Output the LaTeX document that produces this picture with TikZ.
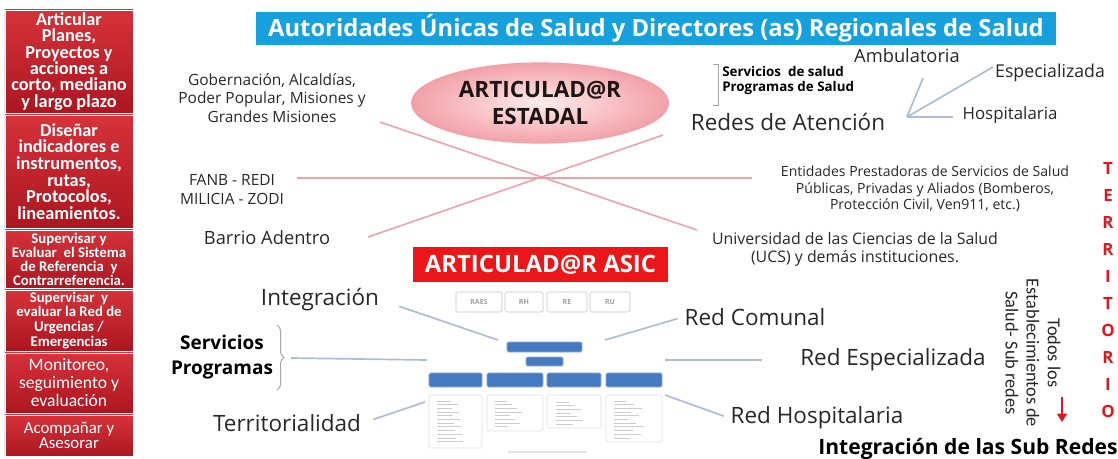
\documentclass[tikz,border=0pt]{standalone}
\usepackage{fontspec}
\setmainfont{Open Sans}
\newfontfamily\boxfont{Carlito}
\usepackage{tikz}
\usetikzlibrary{arrows.meta}
\usetikzlibrary{shapes.geometric}
\usetikzlibrary{decorations.pathreplacing}

\definecolor{sidetop}{RGB}{214,50,58}
\definecolor{sidebot}{RGB}{172,22,32}
\definecolor{titleblue}{RGB}{22,160,220}
\definecolor{asicred}{RGB}{236,22,24}
\definecolor{labelgray}{RGB}{40,40,40}
\definecolor{crosspink}{RGB}{240,160,168}
\definecolor{connblue}{RGB}{172,190,214}
\definecolor{barblue}{RGB}{70,122,192}
\definecolor{terrred}{RGB}{222,24,30}
\newcommand{\fsz}[2]{\fontsize{#1}{#2}\selectfont}

\begin{document}
\begin{tikzpicture}[x=0.025cm, y=-0.025cm,
    sidebox/.style={draw=white, line width=0.6pt, top color=sidetop, bottom color=sidebot,
        text=white, align=center, minimum width=3.2cm, inner sep=1pt},
    lbl/.style={text=labelgray, align=center, inner sep=1pt},
    crossline/.style={draw=crosspink, line width=1.1pt},
    conn/.style={draw=connblue, line width=1.2pt},
    minibox/.style={draw=gray!45, rounded corners=1pt, minimum height=0.5cm, inner sep=0pt,
        font=\bfseries\fsz{5}{6}, text=gray!75},
    bluebar/.style={fill=barblue, draw=barblue!60!white, rounded corners=1pt, inner sep=0pt},
    listbox/.style={draw=gray!25, rounded corners=1pt},
    terr/.style={text=terrred, font=\bfseries\fsz{12}{12}, inner sep=0pt}
]
        \clip (0,0) rectangle (1118,459);
        \fill[white] (0,0) rectangle (1118,459);

        % columna izquierda
        \node[sidebox, minimum height=2.575cm, font=\boxfont\bfseries\fsz{13}{11.6}] (planes) at (69,61.5) {Articular\\Planes,\\Proyectos y\\acciones a\\corto, mediano\\y largo plazo};
        \node[sidebox, minimum height=2.825cm, font=\boxfont\bfseries\fsz{13}{11.9}] (disenar) at (69,171.5) {Diseñar\\indicadores e\\instrumentos,\\rutas,\\Protocolos,\\lineamientos.};
        \node[sidebox, minimum height=1.45cm, font=\boxfont\bfseries\fsz{10.5}{10}] (refer) at (69,259) {Supervisar y\\Evaluar\ \ el Sistema\\de Referencia\ \ y\\Contrarreferencia.};
        \node[sidebox, minimum height=1.525cm, font=\boxfont\bfseries\fsz{10.5}{10.6}] (urgen) at (69,320.5) {Supervisar\ \ y\\evaluar la Red de\\Urgencias /\\Emergencias};
        \node[sidebox, minimum height=1.5cm, font=\boxfont\fsz{12.5}{12.8}] (monit) at (69,383) {Monitoreo,\\seguimiento y\\evaluación};
        \node[sidebox, minimum height=1.025cm, font=\boxfont\fsz{12}{10.7}] (acomp) at (69,435.5) {Acompañar y\\Asesorar};

        % titulo
        \node[fill=titleblue, text=white, font=\bfseries\fsz{16.9}{19}, minimum width=20cm, minimum height=0.825cm, inner sep=0pt] (titulo) at (656,28.5) {Autoridades Únicas de Salud y Directores (as) Regionales de Salud};

        % cruz
        \coordinate (xa1) at (380,122);
        \coordinate (xa2) at (697,230);
        \coordinate (xb1) at (663,135);
        \coordinate (xb2) at (368,237);
        \coordinate (xh1) at (297,178);
        \coordinate (xh2) at (752,178);
        \draw[crossline] (xa1) -- (xa2);
        \draw[crossline] (xb1) -- (xb2);
        \draw[crossline] (xh1) -- (xh2);

        \node[ellipse, minimum width=6.45cm, minimum height=2.03cm, inner color={rgb,255:red,255;green,236;blue,236}, outer color={rgb,255:red,242;green,160;blue,168}, align=center, font=\bfseries\fsz{16}{19.5}, text={rgb,255:red,30;green,20;blue,20}] (estadal) at (540,103) {ARTICULAD@R\\ESTADAL};

        \node[lbl, font=\fsz{11}{13.2}] (gob) at (272,98) {Gobernación, Alcaldías,\\Poder Popular, Misiones y\\Grandes Misiones};
        \node[lbl, font=\fsz{11}{13.5}] (fanb) at (232,190) {FANB - REDI\\MILICIA - ZODI};
        \node[lbl, font=\fsz{13}{15}] (barrio) at (267,238) {Barrio Adentro};
        \node[lbl, font=\fsz{10}{11.9}] (entid) at (925,189) {Entidades Prestadoras de Servicios de Salud\\Públicas, Privadas y Aliados (Bomberos,\\Protección Civil, Ven911, etc.)};
        \node[lbl, font=\fsz{11.3}{12.8}] (univ) at (855,249) {Universidad de las Ciencias de la Salud\\(UCS) y demás instituciones.};

        % redes de atencion
        \node[lbl, font=\fsz{16}{19}] (redes) at (788,122) {Redes de Atención};
        \node[lbl, font=\fsz{13}{15}] (ambul) at (907,56) {Ambulatoria};
        \node[lbl, font=\fsz{12.6}{15}] (especial) at (1050,73) {Especializada};
        \node[lbl, font=\fsz{12}{15}] (hospit) at (1010,115) {Hospitalaria};
        \node[text=black, align=left, anchor=west, inner sep=0pt, font=\bfseries\fsz{9.5}{10.7}] (servsal) at (722,80.5) {Servicios\ \ de salud\\Programas de Salud};
        \draw[gray!70, line width=0.6pt] (713,64) -- (718,64) -- (718,105) -- (713,105);
        \coordinate (vert) at (907,117);
        \coordinate (vamb) at (923,78);
        \coordinate (vesp) at (993,67);
        \coordinate (vhos) at (953,117);
        \draw[conn] (vert) -- (vamb);
        \draw[conn] (vert) -- (vesp);
        \draw[conn] (vert) -- (vhos);

        % articulador asic
        \node[fill=asicred, text=white, font=\bfseries\fsz{17}{19}, minimum width=6.375cm, minimum height=0.875cm, inner sep=0pt] (asic) at (540.5,264.5) {ARTICULAD@R ASIC};

        \node[minibox, minimum width=1.15cm] (raes) at (479,302) {RAES};
        \node[minibox, minimum width=0.95cm] (rh) at (524,302) {RH};
        \node[minibox, minimum width=1.0cm] (re) at (567,302) {RE};
        \node[minibox, minimum width=1.0cm] (ru) at (610,302) {RU};

        \node[bluebar, minimum width=1.875cm, minimum height=0.25cm] (bar0) at (544.5,347) {};
        \node[bluebar, minimum width=0.925cm, minimum height=0.225cm] (bar1) at (544.5,361.5) {};
        \node[bluebar, minimum width=1.325cm, minimum height=0.35cm] (bar2) at (455.5,380) {};
        \node[bluebar, minimum width=1.4cm, minimum height=0.35cm] (bar3) at (515,380) {};
        \node[bluebar, minimum width=1.35cm, minimum height=0.35cm] (bar4) at (574,380) {};
        \node[bluebar, minimum width=1.4cm, minimum height=0.35cm] (bar5) at (634,380) {};

        \draw[listbox] (429,395) rectangle (482,448);
        \draw[listbox] (487,395) rectangle (543,431);
        \draw[listbox] (547,395) rectangle (601,428);
        \draw[listbox] (606,395) rectangle (662,442);
        \foreach \k in {0,...,11}
            \draw[gray!40, line width=0.7pt] (437,{401+\k*3.7}) -- ++({14+mod(7*\k,13)},0);
        \foreach \k in {0,...,7}
            \draw[gray!40, line width=0.7pt] (495,{401+\k*3.7}) -- ++({12+mod(5*\k,17)},0);
        \foreach \k in {0,...,6}
            \draw[gray!40, line width=0.7pt] (556,{402+\k*3.7}) -- ++({13+mod(6*\k,16)},0);
        \foreach \k in {0,...,10}
            \draw[gray!40, line width=0.7pt] (614,{401+\k*3.7}) -- ++({12+mod(8*\k,19)},0);
        \draw[gray!20, line width=1pt] (508,452) -- (587,452);

        % etiquetas abajo
        \node[lbl, font=\fsz{16}{19}] (integ) at (320,300) {Integración};
        \node[lbl, text=black, font=\bfseries\fsz{13.5}{17.8}] (servprog) at (222,357) {Servicios\\Programas};
        \node[lbl, font=\fsz{16}{19}] (territ) at (287,423) {Territorialidad};
        \node[lbl, font=\fsz{16}{19}] (comunal) at (755,317) {Red Comunal};
        \node[lbl, font=\fsz{16}{19}] (redesp) at (893,360) {Red Especializada};
        \node[lbl, font=\fsz{16}{19}] (redhos) at (817,418) {Red Hospitalaria};

        \draw[gray!70, line width=0.7pt, decorate, decoration={brace, amplitude=5pt}] (277,325) -- (277,390);
        \coordinate (brtip) at (291,358);
        \coordinate (chserv) at (427,360);
        \coordinate (chint) at (498,340);
        \coordinate (chter) at (425,402);
        \coordinate (chcom) at (605,340);
        \coordinate (chesp) at (665,360);
        \coordinate (chhos) at (665,395);
        \draw[conn] (brtip) -- (chserv);
        \draw[conn, shorten <=14pt] (integ.east) -- (chint);
        \draw[conn, shorten <=8pt] (territ.east) -- (chter);
        \draw[conn, shorten <=4pt] (comunal.west) -- (chcom);
        \draw[conn, shorten <=26pt] (redesp.west) -- (chesp);
        \draw[conn, shorten <=4pt] (redhos.west) -- (chhos);

        % sub redes
        \node[rotate=-90, align=center, text=black!85, inner sep=0pt, font=\boxfont\fsz{13}{15}] (todos) at (1033,353) {Todos los\\Establecimientos de\\Salud- Sub redes};
        \coordinate (flecha) at (1062,397);
        \coordinate (flechab) at (1062,422);
        \draw[terrred, line width=1.6pt, -{Triangle[length=6pt, width=7pt]}] (flecha) -- (flechab);
        \node[anchor=west, inner sep=0pt, text=black, font=\bfseries\fsz{15}{18}] (subredes) at (818,449) {Integración de las Sub Redes};

        \foreach \ch [count=\i from 0] in {T,E,R,R,I,T,O,R,I,O}
            \node[terr] (terr\i) at (1108,{168+27*\i}) {\ch};

\end{tikzpicture}
\end{document}
